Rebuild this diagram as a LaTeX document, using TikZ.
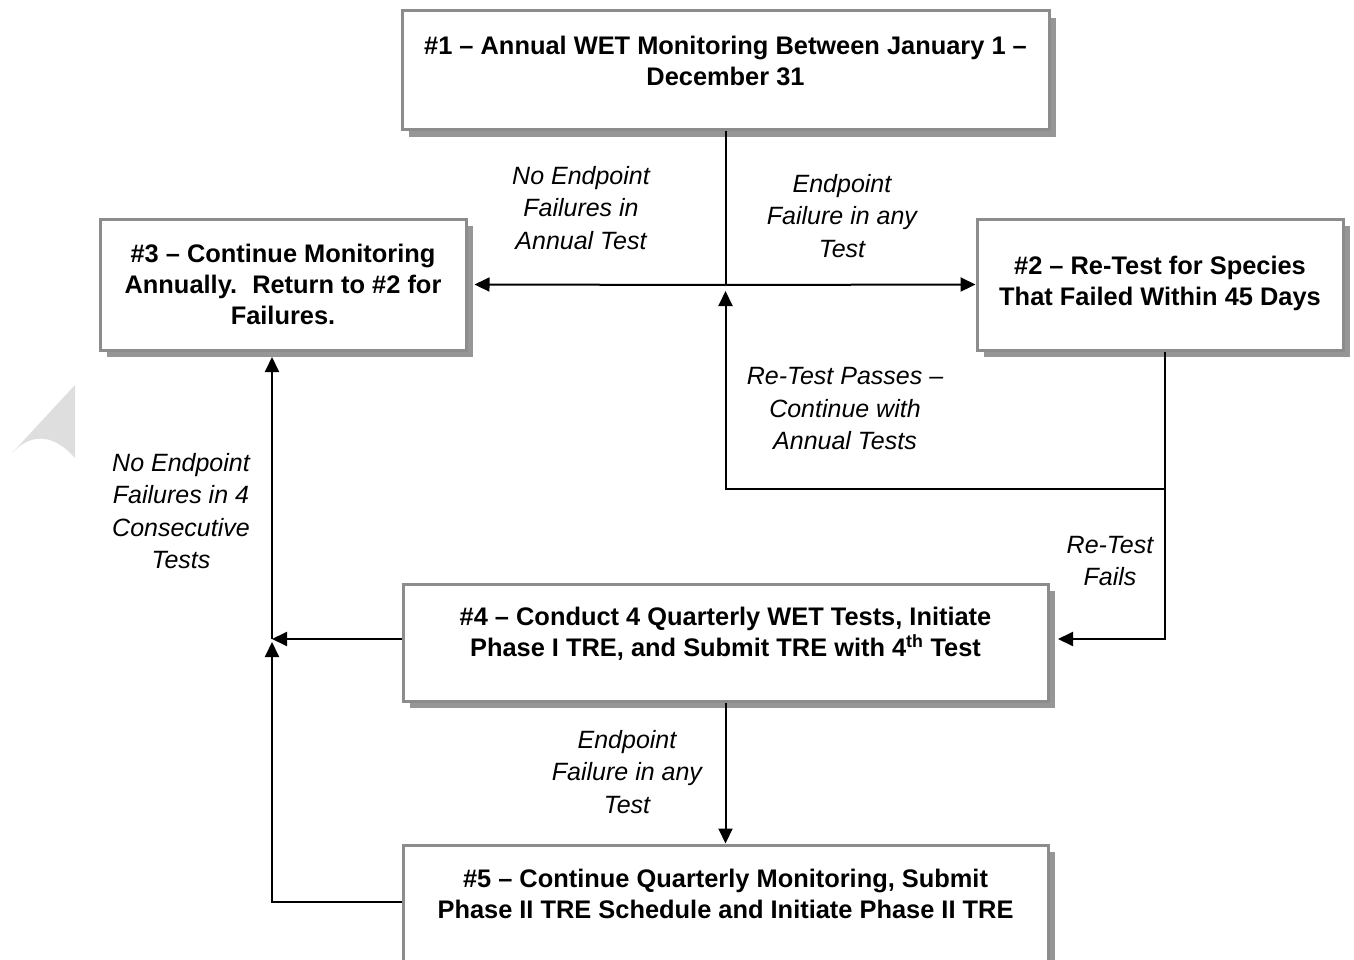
\documentclass[tikz,border=0pt]{standalone}
\usepackage{fontspec}
\setmainfont{Liberation Sans}
\usetikzlibrary{arrows.meta,shadows}
\definecolor{boxgray}{RGB}{140,140,140}
\definecolor{shadowgray}{RGB}{150,150,150}
\definecolor{markgray}{RGB}{222,222,222}
\tikzset{
  stagebox/.style={draw=boxgray, line width=3pt, fill=white, inner sep=0pt,
    drop shadow={shadow xshift=7pt, shadow yshift=-7pt, fill=shadowgray, opacity=1}},
  stagetext/.style={align=center, font=\fontsize{25.4}{31}\selectfont\bfseries},
  edgetext/.style={align=center, font=\fontsize{25}{32.5}\selectfont\itshape},
  flow/.style={line width=2pt, -{Triangle[length=15pt,width=14pt]}},
  plain/.style={line width=2pt}
}
\begin{document}
\begin{tikzpicture}[x=1pt, y=-1pt]
    \useasboundingbox (0,0) rectangle (1354,960);
    % page mark
    \fill[markgray] (75,385) -- (12,453) .. controls (28,436) and (50,430) .. (75,458) -- cycle;

    % boxes
    \node[stagebox, minimum width=647pt, minimum height=119pt] (b1) at (725.5,70.5) {};
    \node[stagebox, minimum width=366pt, minimum height=131pt] (b3) at (283,284.5) {};
    \node[stagebox, minimum width=366pt, minimum height=131pt] (b2) at (1160,284.5) {};
    \node[stagebox, minimum width=645pt, minimum height=117pt] (b4) at (725.5,642.5) {};
    \node[stagebox, minimum width=645pt, minimum height=135pt] (b5) at (725.5,912.5) {};

    \node[stagetext] (t1) at (725.5,61) {\#1 -- Annual WET Monitoring Between January 1 --\\December 31};
    \node[stagetext] (t3) at (283,284) {\#3 -- Continue Monitoring\\Annually.\hspace{0.6em}Return to \#2 for\\Failures.};
    \node[stagetext] (t2) at (1160,283.5) {\#2 -- Re-Test for Species\\That Failed Within 45 Days};
    \node[stagetext] (t4) at (725.5,634) {\#4 -- Conduct 4 Quarterly WET Tests, Initiate\\Phase I TRE, and Submit TRE with 4\textsuperscript{th} Test};
    \node[stagetext] (t5) at (725.5,894) {\#5 -- Continue Quarterly Monitoring, Submit\\Phase II TRE Schedule and Initiate Phase II TRE};

    % junctions
    \coordinate (J) at (725.5,285);
    \coordinate (R) at (1165,489);
    \coordinate (L4) at (272,639);
    \coordinate (L5) at (272,902);

    \draw[plain] (b1.south) -- (J);
    \draw[flow] (J) -- ([xshift=7pt]b3.east);
    \draw[flow] (J) -- (b2.west);
    \draw[flow] (R |- b2.south) -- (R) -- (R -| J) -- ([yshift=-6pt]J);
    \draw[flow] (R) -- (R |- L4) -- (1058,639);
    \draw[flow] (b4.west |- L4) -- (L4);
    \draw[flow] (b5.west |- L5) -- (L5) -- ([yshift=-3pt]L4);
    \draw[flow] (L4) -- (272,357);
    \draw[flow] (b4.south) -- (b5.north);

    % labels
    \node[edgetext] (e1) at (581,208) {No Endpoint\\Failures in\\Annual Test};
    \node[edgetext] (e2) at (842,216) {Endpoint\\Failure in any\\Test};
    \node[edgetext] (e3) at (845,409) {Re-Test Passes --\\Continue with\\Annual Tests};
    \node[edgetext] (e4) at (181,511) {No Endpoint\\Failures in 4\\Consecutive\\Tests};
    \node[edgetext] (e5) at (1110,561) {Re-Test\\Fails};
    \node[edgetext] (e6) at (627,772) {Endpoint\\Failure in any\\Test};

\end{tikzpicture}
\end{document}
